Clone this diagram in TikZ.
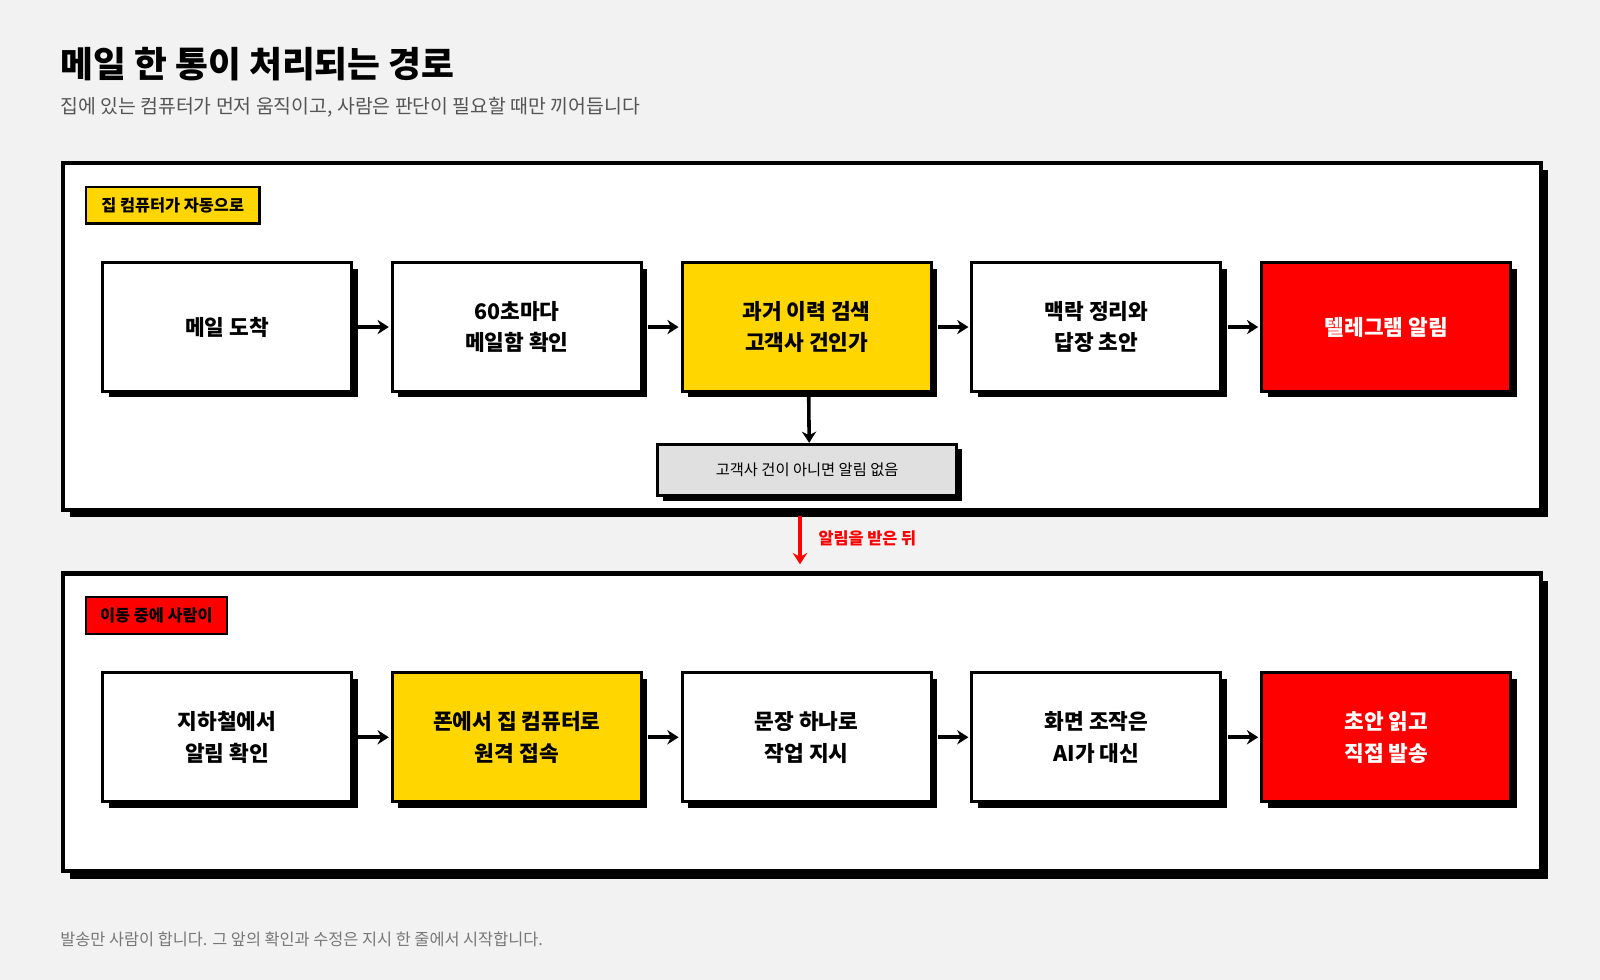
\documentclass[tikz,border=0pt]{standalone}
\usepackage{fontspec}
\setmainfont{Noto Sans CJK KR}
\usetikzlibrary{arrows.meta,shadows,positioning}
\definecolor{bg}{HTML}{F2F2F2}
\definecolor{hiyel}{HTML}{FFD600}
\definecolor{hired}{HTML}{FF0000}
\definecolor{notegray}{HTML}{E0E0E0}
\definecolor{subgray}{HTML}{555555}
\tikzset{
  panel/.style={draw=black,line width=4pt,fill=white,anchor=north west,inner sep=0pt,
    drop shadow={shadow xshift=7pt,shadow yshift=-7pt,fill=black,opacity=1}},
  stage/.style={draw=black,line width=3pt,fill=white,anchor=north west,inner sep=0pt,
    minimum width=244pt,minimum height=126pt,align=center,font=\fontsize{21}{31}\selectfont\bfseries,
    drop shadow={shadow xshift=6pt,shadow yshift=-6pt,fill=black,opacity=1}},
  tag/.style={draw=black,line width=2.5pt,anchor=north west,inner sep=0pt,minimum height=36pt,
    font=\fontsize{16}{18}\selectfont\bfseries},
  go/.style={line width=3.5pt,-{Stealth[length=11pt,width=14pt]}},
}
\begin{document}
\begin{tikzpicture}[x=1pt,y=1pt,yscale=-1]
\fill[bg] (0,0) rectangle (1568,960);
\useasboundingbox (0,0) rectangle (1568,960);

% heading
\node[anchor=west,inner sep=0pt,font=\fontsize{35}{40}\selectfont\bfseries] (title) at (59,63) {메일 한 통이 처리되는 경로};
\node[anchor=west,inner sep=0pt,font=\fontsize{19}{22}\selectfont,text=subgray] (subtitle) at (59,105) {집에 있는 컴퓨터가 먼저 움직이고, 사람은 판단이 필요할 때만 끼어듭니다};

% panels
\node[panel,minimum width=1448pt,minimum height=340pt] (home) at (60,158) {};
\node[panel,minimum width=1448pt,minimum height=292pt] (away) at (60,560) {};

\node[tag,fill=hiyel,minimum width=170pt] (tagA) at (83,182) {집 컴퓨터가 자동으로};
\node[tag,fill=hired,minimum width=138pt] (tagB) at (83,584) {이동 중에 사람이};

% row 1
\node[stage] (mail) at (99,256) {메일 도착};
\node[stage] (poll) at (383,256) {60초마다\\메일함 확인};
\node[stage,fill=hiyel] (search) at (667,256) {과거 이력 검색\\고객사 건인가};
\node[stage] (draft) at (951,256) {맥락 정리와\\답장 초안};
\node[stage,fill=hired,text=white] (alert) at (1235,256) {텔레그램 알림};

\node[draw=black,line width=3pt,fill=notegray,anchor=north west,inner sep=0pt,minimum width=293pt,minimum height=50pt,
  font=\fontsize{15}{18}\selectfont,drop shadow={shadow xshift=5pt,shadow yshift=-5pt,fill=black,opacity=1}] (skip) at (643,434) {고객사 건이 아니면 알림 없음};

\foreach \a/\b in {mail/poll,poll/search,search/draft,draft/alert}
  \draw[go] ([xshift=5pt]\a.east) -- ([xshift=-2pt]\b.west);
\draw[go] ([xshift=2pt]search.south) -- ([xshift=2pt]skip.north);

% between panels
\coordinate (gapT) at (784,506);
\coordinate (gapB) at (784,553);
\draw[go,hired] (gapT) -- (gapB);
\node[anchor=west,inner sep=0pt,text=hired,font=\fontsize{16}{18}\selectfont\bfseries] (gaplbl) at (802,528) {알림을 받은 뒤};

% row 2
\node[stage] (subway) at (99,658) {지하철에서\\알림 확인};
\node[stage,fill=hiyel] (remote) at (383,658) {폰에서 집 컴퓨터로\\원격 접속};
\node[stage] (order) at (667,658) {문장 하나로\\작업 지시};
\node[stage] (ai) at (951,658) {화면 조작은\\AI가 대신};
\node[stage,fill=hired,text=white] (send) at (1235,658) {초안 읽고\\직접 발송};

\foreach \a/\b in {subway/remote,remote/order,order/ai,ai/send}
  \draw[go] ([xshift=5pt]\a.east) -- ([xshift=-2pt]\b.west);

% footer
\node[anchor=west,inner sep=0pt,font=\fontsize{16}{18}\selectfont,text=subgray!80] (foot) at (59,921) {발송만 사람이 합니다. 그 앞의 확인과 수정은 지시 한 줄에서 시작합니다.};
\end{tikzpicture}
\end{document}
